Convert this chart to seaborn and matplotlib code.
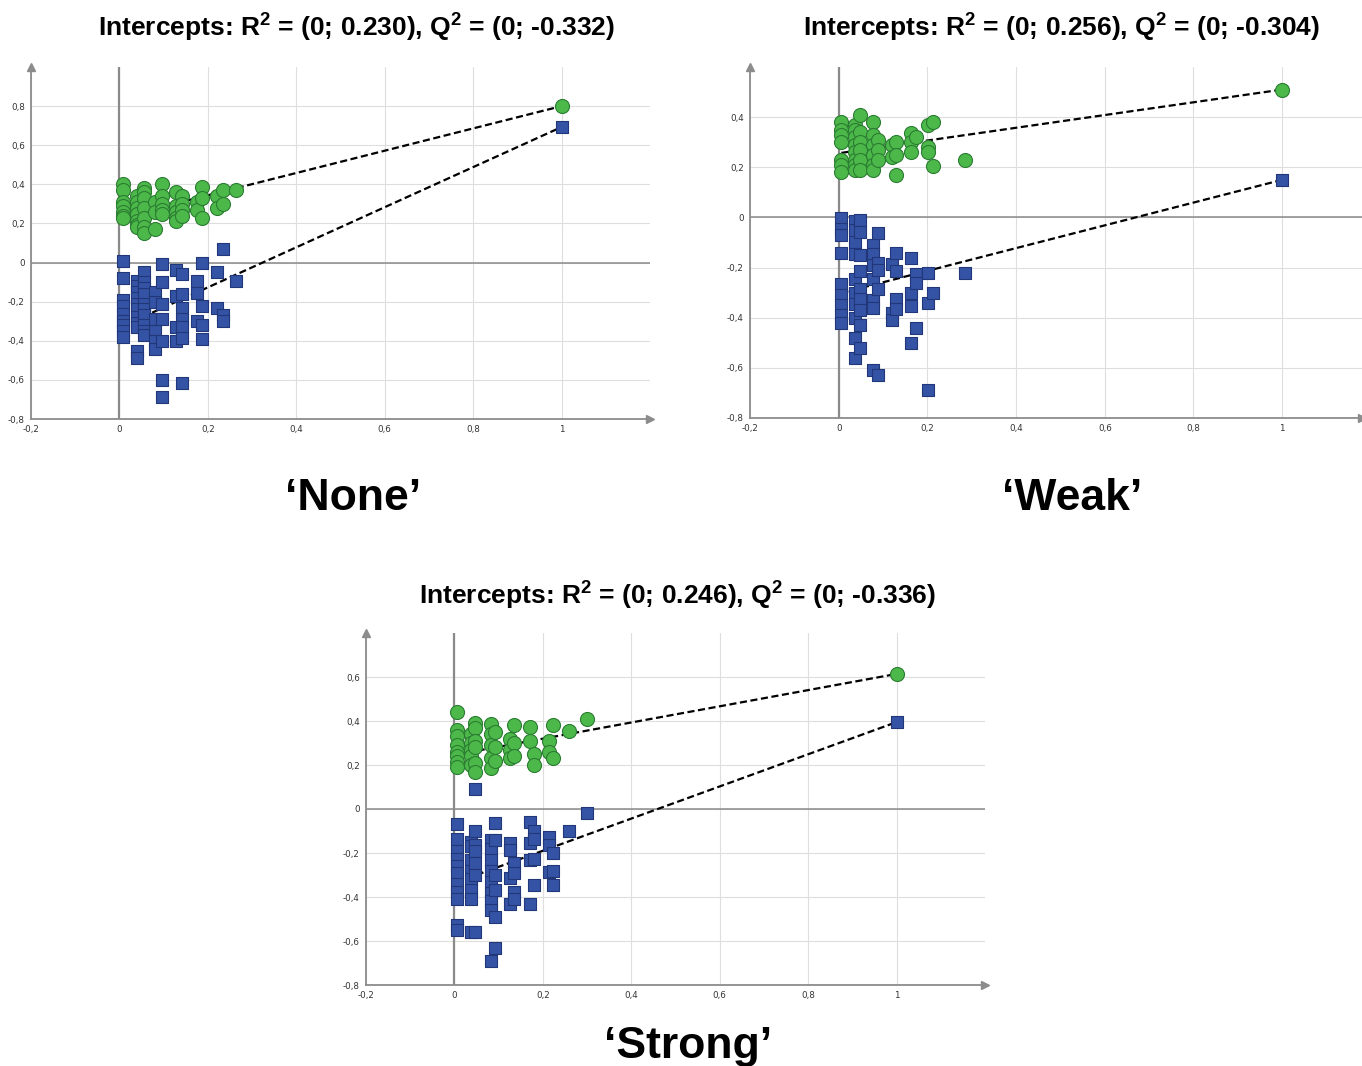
import numpy as np
import pandas as pd
import matplotlib
matplotlib.use("Agg")
import matplotlib.pyplot as plt
import seaborn as sns
from matplotlib.ticker import MultipleLocator, FixedLocator, FuncFormatter

# ---------------- data ----------------
# Panel 'None'
none_x = [0.008, 0.040, 0.055, 0.080, 0.097, 0.127, 0.142, 0.175, 0.187, 0.220, 0.235, 0.263]
none_r2 = [[0.40, 0.37, 0.31, 0.29, 0.26, 0.24, 0.23],
           [0.34, 0.31, 0.28, 0.25, 0.21, 0.19, 0.18],
           [0.38, 0.36, 0.33, 0.28, 0.23, 0.18, 0.15],
           [0.31, 0.26, 0.17],
           [0.40, 0.34, 0.30, 0.27, 0.25],
           [0.36, 0.29, 0.26, 0.23, 0.21],
           [0.34, 0.30, 0.27, 0.24],
           [0.31, 0.27],
           [0.385, 0.33, 0.23],
           [0.34, 0.28],
           [0.37, 0.30],
           [0.37]]
none_q2 = [[0.007, -0.08, -0.19, -0.22, -0.265, -0.30, -0.32, -0.35, -0.38],
           [-0.095, -0.12, -0.15, -0.18, -0.21, -0.24, -0.28, -0.31, -0.33, -0.45, -0.49],
           [-0.05, -0.10, -0.13, -0.16, -0.21, -0.24, -0.27, -0.32, -0.35, -0.37],
           [-0.15, -0.20, -0.29, -0.35, -0.40, -0.44],
           [-0.007, -0.10, -0.21, -0.29, -0.40, -0.60, -0.69],
           [-0.036, -0.17, -0.33, -0.40],
           [-0.06, -0.16, -0.23, -0.29, -0.33, -0.385, -0.615],
           [-0.095, -0.155, -0.30],
           [-0.002, -0.22, -0.32, -0.39],
           [-0.048, -0.23],
           [0.07, -0.27, -0.30],
           [-0.095]]
none_orig = [0.80, 0.693]          # R2, Q2 of the original model (x = 1)
none_intercepts = [0.230, -0.332]  # R2, Q2 intercepts

# Panel 'Weak'
weak_x = [0.006, 0.036, 0.048, 0.078, 0.089, 0.120, 0.130, 0.163, 0.174, 0.202, 0.212, 0.285]
weak_r2 = [[0.38, 0.35, 0.33, 0.30, 0.23, 0.21, 0.18],
           [0.37, 0.35, 0.32, 0.29, 0.26, 0.23, 0.21, 0.19],
           [0.41, 0.34, 0.30, 0.27, 0.23, 0.19],
           [0.38, 0.33, 0.29, 0.25, 0.21, 0.19],
           [0.31, 0.27, 0.23],
           [0.29, 0.24],
           [0.30, 0.25, 0.17],
           [0.335, 0.30, 0.26],
           [0.32],
           [0.37, 0.28, 0.26],
           [0.38, 0.205],
           [0.23]]
weak_q2 = [[-0.003, -0.045, -0.07, -0.14, -0.265, -0.31, -0.35, -0.39, -0.42],
           [-0.016, -0.05, -0.10, -0.145, -0.245, -0.30, -0.345, -0.40, -0.48, -0.56],
           [-0.012, -0.06, -0.15, -0.215, -0.285, -0.325, -0.37, -0.43, -0.52],
           [-0.11, -0.145, -0.19, -0.245, -0.33, -0.36, -0.61],
           [-0.062, -0.18, -0.21, -0.285, -0.63],
           [-0.185, -0.38, -0.41],
           [-0.14, -0.215, -0.325, -0.365],
           [-0.16, -0.30, -0.355, -0.50],
           [-0.225, -0.26, -0.44],
           [-0.22, -0.34, -0.69],
           [-0.30],
           [-0.22]]
weak_orig = [0.51, 0.15]
weak_intercepts = [0.256, -0.304]

# Panel 'Strong'
strong_x = [0.005, 0.038, 0.047, 0.083, 0.092, 0.126, 0.135, 0.170, 0.179, 0.213, 0.223, 0.258, 0.300]
strong_r2 = [[0.44, 0.36, 0.33, 0.29, 0.26, 0.24, 0.215, 0.19],
             [0.34, 0.30, 0.27, 0.24, 0.20],
             [0.39, 0.37, 0.31, 0.28, 0.21, 0.17],
             [0.385, 0.34, 0.29, 0.23, 0.185],
             [0.35, 0.28, 0.22],
             [0.32, 0.27, 0.23],
             [0.38, 0.30, 0.24],
             [0.375, 0.31],
             [0.25, 0.20],
             [0.31, 0.26],
             [0.38, 0.23],
             [0.355],
             [0.41]]
strong_q2 = [[-0.07, -0.135, -0.19, -0.225, -0.26, -0.29, -0.34, -0.375, -0.41, -0.525, -0.55],
             [-0.15, -0.17, -0.23, -0.28, -0.32, -0.37, -0.41, -0.56],
             [0.09, -0.10, -0.165, -0.19, -0.245, -0.30, -0.56],
             [-0.14, -0.18, -0.23, -0.28, -0.33, -0.38, -0.42, -0.46, -0.69],
             [-0.065, -0.14, -0.30, -0.37, -0.49, -0.63],
             [-0.155, -0.185, -0.315, -0.43],
             [-0.245, -0.29, -0.375, -0.41],
             [-0.06, -0.155, -0.23, -0.43],
             [-0.10, -0.135, -0.225, -0.345],
             [-0.125, -0.165, -0.285],
             [-0.20, -0.28, -0.345],
             [-0.10],
             [-0.02]]
strong_orig = [0.614, 0.395]
strong_intercepts = [0.246, -0.336]

panel_names = ["\u2018None\u2019", "\u2018Weak\u2019", "\u2018Strong\u2019"]

# ---------------- style ----------------
sns.set_theme(style="white")
plt.rcParams["font.family"] = ["Liberation Sans", "DejaVu Sans"]
plt.rcParams["mathtext.fontset"] = "custom"
plt.rcParams["mathtext.rm"] = "Liberation Sans:bold"
plt.rcParams["mathtext.bf"] = "Liberation Sans:bold"
plt.rcParams["mathtext.it"] = "Liberation Sans:bold"

GREEN, GREEN_EDGE = "#4cb849", "#2b7d32"
BLUE, BLUE_EDGE = "#3553a4", "#22377a"
AXIS_GRAY = "#8c8c8c"
GRID_GRAY = "#dedede"

W, H = 1362, 1066
fig = plt.figure(figsize=(W / 100, H / 100), dpi=100)
fig.patch.set_facecolor("white")


def rect(x0, x1, ytop, ybot):
    return [x0 / W, (H - ybot) / H, (x1 - x0) / W, (ybot - ytop) / H]


def fmt(v, pos):
    v = round(v, 1)
    if abs(v) < 1e-9:
        return "0"
    if abs(v - round(v)) < 1e-9:
        return str(int(round(v)))
    return f"{v:.1f}".replace(".", ",")


def expand(xs, cols):
    return [(x, y) for x, col in zip(xs, cols) for y in col]


def draw_panel(ax, xs, r2, q2, orig, intercepts, xmax, ymax):
    r2_pts = expand(xs, r2) + [(1.0, orig[0])]
    q2_pts = expand(xs, q2) + [(1.0, orig[1])]
    df_r2 = pd.DataFrame(r2_pts, columns=["x", "y"])
    df_q2 = pd.DataFrame(q2_pts, columns=["x", "y"])

    ax.set_xlim(-0.2, xmax)
    ax.set_ylim(-0.8, ymax)

    # regression lines from intercept to the original model value
    x0 = min(xs)
    for icpt, end in zip(intercepts, orig):
        lx = np.array([x0, 1.0])
        ly = icpt + (end - icpt) * lx
        line_df = pd.DataFrame({"x": lx, "y": ly})
        sns.lineplot(data=line_df, x="x", y="y", ax=ax, color="black", lw=1.6,
                     dashes=False, zorder=3)
        ax.lines[-1].set_dashes([3.2, 1.6])

    sns.scatterplot(data=df_q2, x="x", y="y", ax=ax, marker="s", s=72,
                    color=BLUE, edgecolor=BLUE_EDGE, linewidth=0.8, zorder=4)
    sns.scatterplot(data=df_r2, x="x", y="y", ax=ax, marker="o", s=102,
                    color=GREEN, edgecolor=GREEN_EDGE, linewidth=0.8, zorder=5)

    # axes cosmetics
    ax.set_xlabel("")
    ax.set_ylabel("")
    for sp in ["top", "right"]:
        ax.spines[sp].set_visible(False)
    for sp in ["left", "bottom"]:
        ax.spines[sp].set_color(AXIS_GRAY)
        ax.spines[sp].set_linewidth(1.3)

    xt = [round(v, 1) for v in np.arange(-0.2, 1.01, 0.2)]
    yt = [round(v, 1) for v in np.arange(-0.8, ymax - 0.15, 0.2)]
    ax.xaxis.set_major_locator(FixedLocator(xt))
    ax.yaxis.set_major_locator(FixedLocator(yt))
    ax.xaxis.set_minor_locator(MultipleLocator(0.1))
    ax.yaxis.set_minor_locator(MultipleLocator(0.1))
    ax.xaxis.set_major_formatter(FuncFormatter(fmt))
    ax.yaxis.set_major_formatter(FuncFormatter(fmt))
    ax.tick_params(which="major", direction="inout", length=5, width=0.8,
                   color=AXIS_GRAY, labelsize=6.3, labelcolor="#333333", pad=2)
    ax.tick_params(which="minor", direction="inout", length=3, width=0.7,
                   color=AXIS_GRAY)
    for lab in ax.get_xticklabels() + ax.get_yticklabels():
        lab.set_fontfamily(["DejaVu Sans"])

    ax.grid(True, which="major", color=GRID_GRAY, lw=0.8, zorder=0)
    ax.set_axisbelow(True)
    ax.axhline(0, color="#8a8a8a", lw=1.1, zorder=1)
    ax.axvline(0, color="#8a8a8a", lw=1.6, zorder=1)

    ax.plot([0], [1], marker="^", ms=6, color=AXIS_GRAY, transform=ax.transAxes,
            clip_on=False, zorder=6)
    ax.plot([1], [0], marker=">", ms=6, color=AXIS_GRAY, transform=ax.transAxes,
            clip_on=False, zorder=6)


ax1 = fig.add_axes(rect(31, 650, 67, 419))
draw_panel(ax1, none_x, none_r2, none_q2, none_orig, none_intercepts, 1.2, 1.0)

ax2 = fig.add_axes(rect(750, 1362, 67, 418))
draw_panel(ax2, weak_x, weak_r2, weak_q2, weak_orig, weak_intercepts, 1.18, 0.6)

ax3 = fig.add_axes(rect(366, 985, 633, 985))
draw_panel(ax3, strong_x, strong_r2, strong_q2, strong_orig, strong_intercepts, 1.2, 0.8)


def title_text(icpt):
    r, q = icpt
    return (r"Intercepts: R$^{2}$ = (0; " + f"{r:.3f}" + r"), Q$^{2}$ = (0; " +
            f"{q:.3f}" + ")")


title_kw = dict(ha="center", va="baseline", fontsize=19, fontweight="bold", color="black")
fig.text(356.5 / W, 1 - 37 / H, title_text(none_intercepts), **title_kw)
fig.text(1061.5 / W, 1 - 37 / H, title_text(weak_intercepts), **title_kw)
fig.text(677.5 / W, 1 - 605 / H, title_text(strong_intercepts), **title_kw)

name_kw = dict(ha="center", va="baseline", fontsize=32, fontweight="bold", color="black")
fig.text(353 / W, 1 - 510 / H, panel_names[0], **name_kw)
fig.text(1072 / W, 1 - 510 / H, panel_names[1], **name_kw)
fig.text(688 / W, 1 - 1058 / H, panel_names[2], **name_kw)

fig.savefig("out.png", dpi=100, facecolor="white")
